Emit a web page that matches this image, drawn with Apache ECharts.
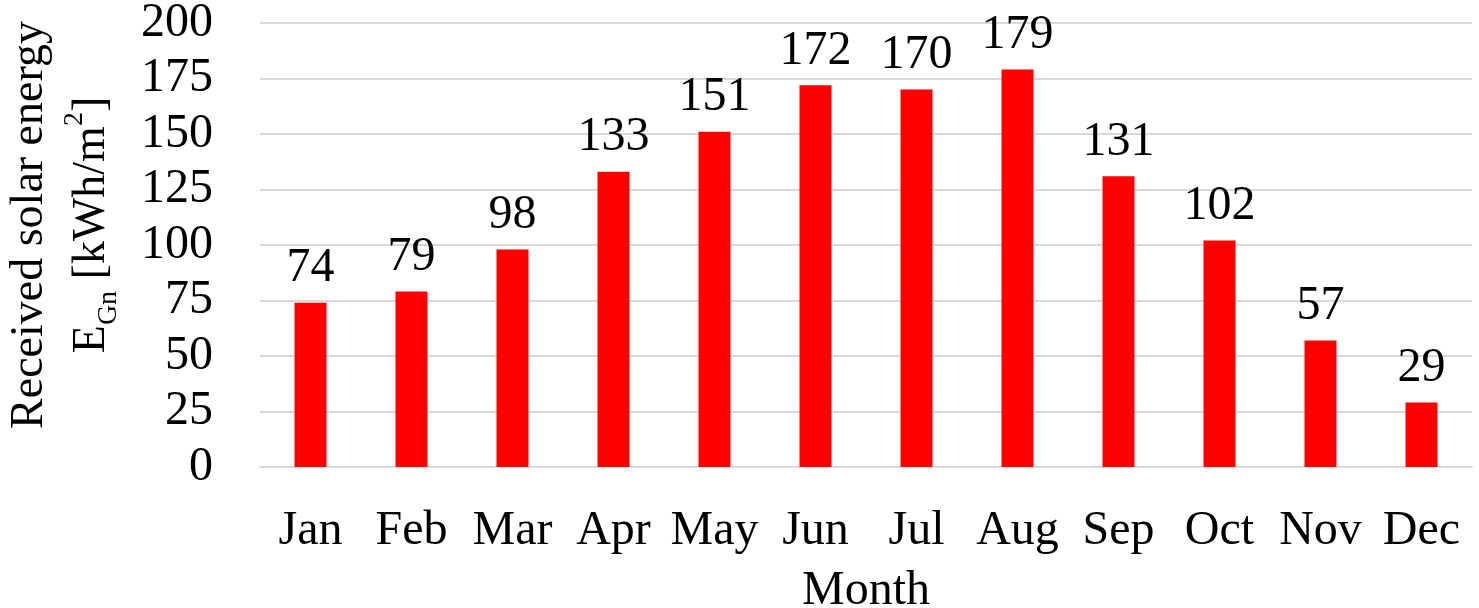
<!DOCTYPE html>
<html><head><meta charset="utf-8">
<script src="https://cdn.jsdelivr.net/npm/echarts@6/dist/echarts.min.js"></script>
<style>html,body{margin:0;padding:0;background:#fff}#c{width:1479px;height:608px}</style>
</head><body><div id="c"></div>
<script>
const months = ['Jan','Feb','Mar','Apr','May','Jun','Jul','Aug','Sep','Oct','Nov','Dec'];
const energy = [74,79,98,133,151,172,170,179,131,102,57,29];
const yTicks = [0,25,50,75,100,125,150,175,200];

const F = 'Liberation Serif, Times New Roman, serif';
const chart = echarts.init(document.getElementById('c'));
chart.setOption({
  animation:false,
  grid:{left:260,right:7,top:23,bottom:141,containLabel:false,outerBoundsMode:'none'},
  xAxis:{type:'category',data:months,
    axisLine:{show:true,lineStyle:{color:'#d9d9d9',width:2}},
    axisTick:{show:false},
    axisLabel:{color:'#000',fontFamily:F,fontSize:48,margin:40,interval:0},
    name:'Month',nameLocation:'middle',nameGap:100,
    nameTextStyle:{color:'#000',fontFamily:F,fontSize:48}},
  yAxis:{type:'value',min:yTicks[0],max:yTicks[yTicks.length-1],interval:25,
    axisLine:{show:false},axisTick:{show:false},
    splitLine:{lineStyle:{color:'#d9d9d9',width:2}},
    axisLabel:{color:'#000',fontFamily:F,fontSize:48,margin:47},
    name:'{a|Received solar energy}\n{a|E}{sub|Gn}{a| [kWh/m}{sup|2}{a|]}',
    nameLocation:'middle',nameRotate:90,nameGap:137,
    nameTextStyle:{color:'#000',fontFamily:F,fontSize:46,lineHeight:62,padding:[0,0,0,40],
      rich:{a:{fontFamily:F,fontSize:46,color:'#000',lineHeight:62},
            sub:{fontFamily:F,fontSize:28,color:'#000',lineHeight:62,verticalAlign:'bottom'},
            sup:{fontFamily:F,fontSize:28,color:'#000',lineHeight:62,verticalAlign:'top'}}}},
  series:[{type:'bar',data:energy,barWidth:32,
    itemStyle:{color:'#ff0000'},
    label:{show:true,position:'top',distance:10,color:'#000',fontFamily:F,fontSize:48}}]
});
</script></body></html>
